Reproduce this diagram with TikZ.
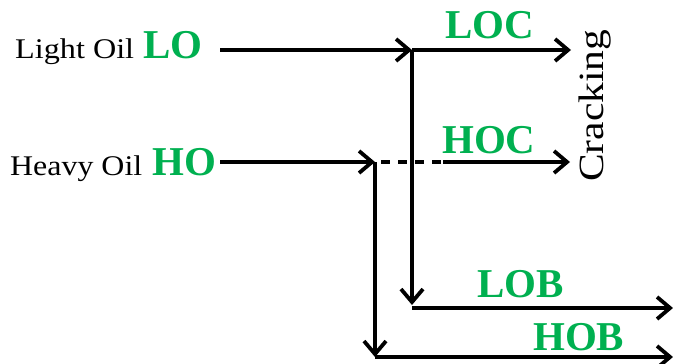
\documentclass[tikz,border=0pt]{standalone}
\usepackage{fontspec}
\setmainfont{Liberation Serif}
\usetikzlibrary{arrows.meta}
\definecolor{oilgreen}{RGB}{0,176,80}
\tikzset{
  flow/.style={line width=3.8pt, -{Straight Barb[length=13pt,width=22pt]}},
  plain/.style={line width=3.8pt},
  feedtext/.style={anchor=base west, inner sep=0pt, font=\fontsize{28.5}{30}\selectfont},
  tag/.style={anchor=base west, inner sep=0pt, text=oilgreen, font=\fontsize{41}{44}\selectfont\bfseries},
}
\begin{document}
\begin{tikzpicture}[x=1pt,y=-1pt]
\useasboundingbox (0,0) rectangle (673,364);

% feed labels
\node[feedtext] (lightoil) at (15,58) {\scalebox{1.13}[1]{Light Oil}};
\node[tag] (lo) at (143,58) {LO};
\node[feedtext] (heavyoil) at (10,175) {\scalebox{1.12}[1]{Heavy Oil}};
\node[tag] (ho) at (152,175) {HO};

% product labels
\node[tag] (loc) at (445,38) {LOC};
\node[tag] (hoc) at (442,153) {HOC};
\node[tag] (lob) at (477,297) {LOB};
\node[tag] (hob) at (533,350) {HOB};
\node[feedtext, rotate=90, font=\fontsize{35.5}{38}\selectfont] (cracking) at (603,182) {\scalebox{1.17}[1]{Cracking}};

% junction and end points
\coordinate (loS) at (220,50);
\coordinate (loJ) at (412,50);
\coordinate (locE) at (571,50);
\coordinate (lobC) at (412,305);
\coordinate (lobS) at (412,308);
\coordinate (lobE) at (673,308);
\coordinate (hoS) at (220,162);
\coordinate (hoJ) at (375,162);
\coordinate (hoD) at (443,162);
\coordinate (hocE) at (570,162);
\coordinate (hobC) at (375,357);
\coordinate (hobE) at (673,357);

% light oil stream
\draw[flow] (loS) -- (loJ);
\draw[flow] (loJ) -- (locE);
\draw[flow] (loJ) -- (lobC);
\draw[flow] (lobS) -- (lobE);

% heavy oil stream
\draw[flow] (hoS) -- (hoJ);
\draw[plain, dash pattern=on 9pt off 8pt, dash phase=11pt] (hoJ) -- (hoD);
\draw[flow] (hoD) -- (hocE);
\draw[flow] (hoJ) -- (hobC);
\draw[flow] (hobC) -- (hobE);
\end{tikzpicture}
\end{document}
